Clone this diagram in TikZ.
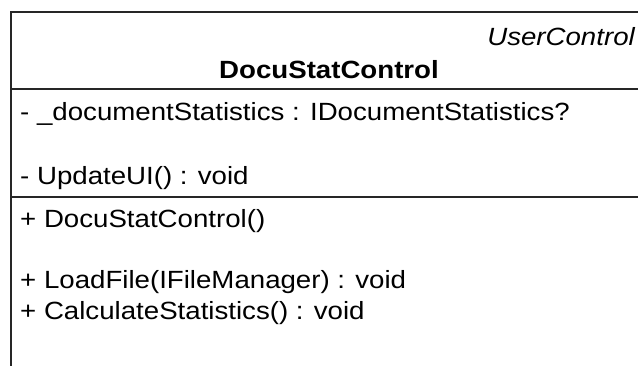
\documentclass[tikz,border=0pt]{standalone}
\usepackage{fontspec}
\setmainfont{Liberation Sans}
\usetikzlibrary{positioning, calc}

\begin{document}
\begin{tikzpicture}[x=1bp, y=-1bp, line cap=rect]
	
	%======================
	% PARAMETERS (edit here)
	%======================
	\def\fs{25}          % font size (bp)
	\def\xs{1.11}        % horizontal stretch of the text
	\def\lx{11}          % left border
	\def\ty{12}          % top border
	\def\sa{89}          % separator name / attributes
	\def\sb{197}         % separator attributes / operations
	\def\tx{20}          % left edge of the member texts
	
	%======================
	% STYLES
	%======================
	\tikzset{
		frame/.style={line width=1.3bp, black!85},
		member/.style={anchor=base west, inner sep=0pt, xscale=\xs,
			font=\fontsize{\fs}{\fs}\selectfont},
		classname/.style={anchor=base, inner sep=0pt, xscale=\xs,
			font=\fontsize{\fs}{\fs}\selectfont\bfseries},
		stereo/.style={anchor=base east, inner sep=0pt, xscale=\xs,
			font=\fontsize{\fs}{\fs}\selectfont\itshape}
	}
	
	\useasboundingbox (0,0) rectangle (638,365);
	
	%======================
	% FRAME
	%======================
	\coordinate (TL) at (\lx,\ty);
	\coordinate (TR) at (638,\ty);
	\coordinate (BL) at (\lx,365);
	\draw[frame] (TR) -- (TL) -- (BL);
	\draw[frame] (\lx,\sa) -- (638,\sa);
	\draw[frame] (\lx,\sb) -- (638,\sb);
	
	%======================
	% NAME COMPARTMENT
	%======================
	\node[stereo] (kind) at (635,45) {UserControl};
	\node[classname] (name) at (329,78) {DocuStatControl};
	
	%======================
	% ATTRIBUTES
	%======================
	\node[member] (docstat) at (\tx,120) {- \_documentStatistics : IDocumentStatistics?};
	\node[member] (update) at (\tx,184) {- UpdateUI() : void};
	
	%======================
	% OPERATIONS
	%======================
	\node[member] (ctor) at (\tx,227) {+ DocuStatControl()};
	\node[member] (load) at (\tx,288) {+ LoadFile(IFileManager) : void};
	\node[member] (calc) at (\tx,319) {+ CalculateStatistics() : void};
	
\end{tikzpicture}
\end{document}
